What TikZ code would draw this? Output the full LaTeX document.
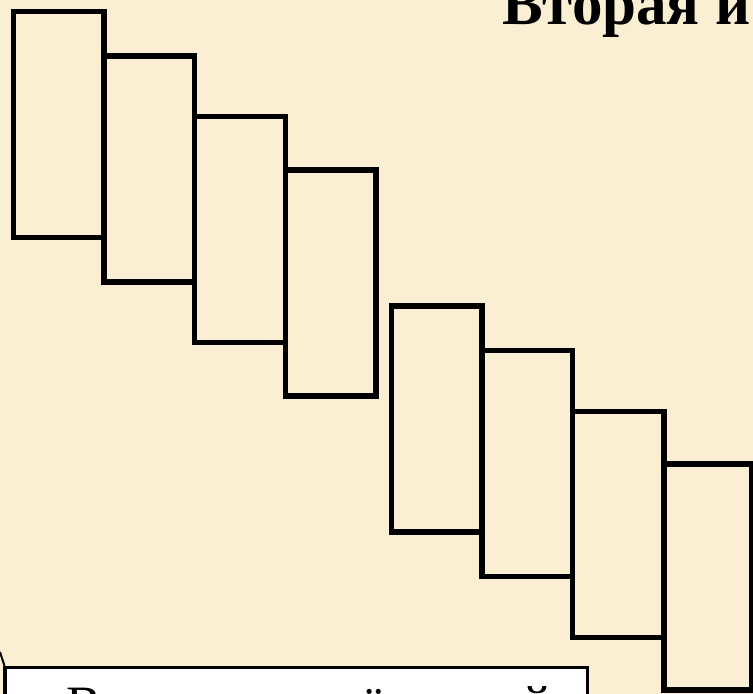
\documentclass[tikz,border=0pt]{standalone}
\usepackage{fontspec}
\setmainfont{Liberation Serif}
\definecolor{parch}{RGB}{251,239,211}
\begin{document}
\begin{tikzpicture}[x=1pt,y=-1pt,
  stepbox/.style={draw=black, line width=5.5pt, minimum width=#1, minimum height=226pt,
    inner sep=0pt, outer sep=0pt, anchor=north west},
  labelbox/.style={draw=black, line width=3.5pt, fill=white, anchor=north west,
    minimum width=582.5pt, minimum height=80pt, inner sep=0pt, outer sep=0pt},
  titletext/.style={anchor=base west, inner sep=0pt, font=\fontsize{61}{61}\selectfont\bfseries},
  boxtext/.style={anchor=base west, inner sep=0pt, font=\fontsize{52.5}{52.5}\selectfont}]
\useasboundingbox (0,0) rectangle (753,694);
\clip (0,0) rectangle (753,694);
\fill[parch] (0,0) rectangle (753,694);
% staircase of rectangles
\node[stepbox=90.5pt] (r1) at (13.5,11.5) {};
\node[stepbox=90.5pt] (r2) at (104,56) {};
\node[stepbox=91pt]   (r3) at (194.5,116.5) {};
\node[stepbox=90.5pt] (r4) at (285.5,170) {};
\node[stepbox=90.5pt] (r5) at (391.5,306) {};
\node[stepbox=90.5pt] (r6) at (482,350.5) {};
\node[stepbox=91.5pt] (r7) at (572.5,411.5) {};
\node[stepbox=88pt]   (r8) at (664,464) {};
% title
\node[titletext] (title) at (502,24) {Вторая и};
% bottom label box
\node[labelbox] (tbox) at (5,667.5) {};
\node[boxtext] (lbl) at (66,722.5) {Вариант развёрнутый};
\coordinate (c0) at (0,652);
\draw[line width=2pt] (c0) -- (tbox.north west);
\end{tikzpicture}
\end{document}
